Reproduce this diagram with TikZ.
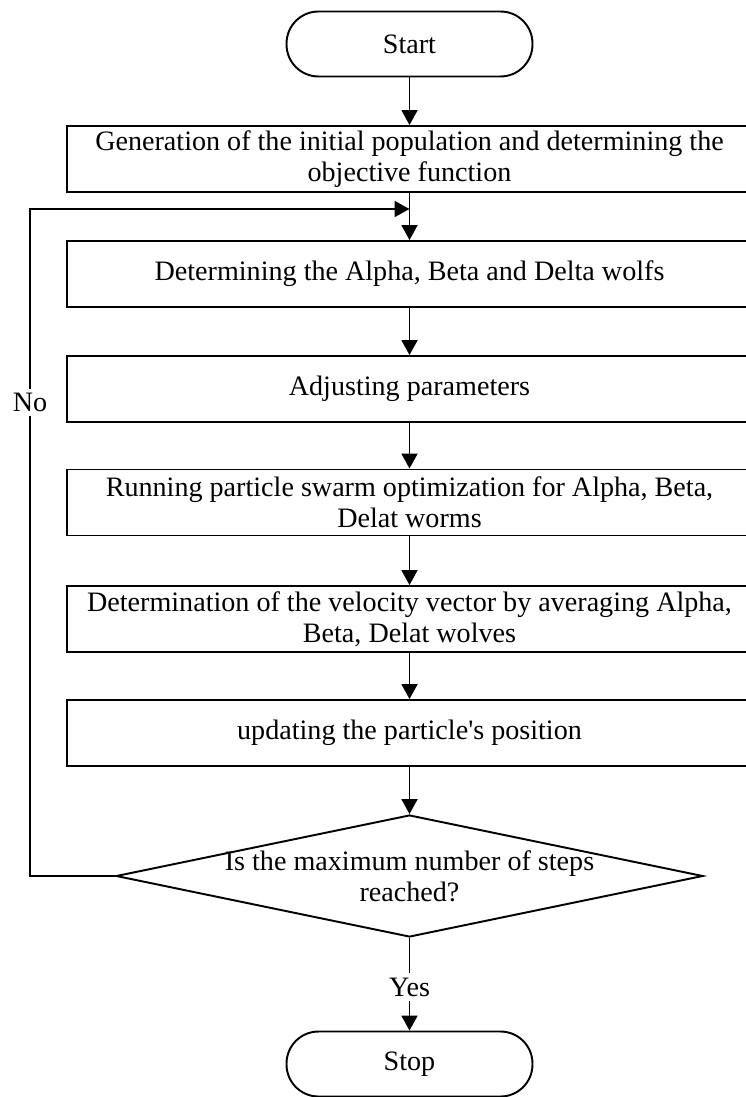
\documentclass[tikz,border=0pt]{standalone}
\usepackage{fontspec}
\setmainfont{Liberation Serif}
\usetikzlibrary{arrows.meta,shapes.geometric}

\begin{document}
\begin{tikzpicture}[x=0.02cm,y=-0.02cm,>={Triangle[length=0.3cm,width=0.32cm]},
    every node/.style={font=\fontsize{16}{17.6}\selectfont},
    process/.style={draw,line width=1.1pt,minimum width=13.7cm,minimum height=1.32cm,align=center,inner sep=0pt},
    terminal/.style={draw,line width=1.1pt,rounded corners=0.64cm,minimum width=4.92cm,minimum height=1.3cm},
    decision/.style={draw,line width=1.1pt,diamond,minimum width=11.74cm,minimum height=2.44cm,inner sep=0pt},
    flow/.style={->,line width=1.1pt},
    answer/.style={fill=white,inner sep=2.5pt}]
    \useasboundingbox (0,0) rectangle (745,1097);
    % boxes
    \node[terminal] (start) at (409.5,44) {Start};
    \node[process] (init) at (409.5,159) {Generation of the initial population and determining the\\objective function};
    \node[process] (leaders) at (409.5,274) {Determining the Alpha, Beta and Delta wolfs};
    \node[process] (adjust) at (409.5,389) {Adjusting parameters};
    \node[process] (pso) at (409.5,502.5) {Running particle swarm optimization for Alpha, Beta,\\Delat worms};
    \node[process] (velocity) at (409.5,619) {Determination of the velocity vector by averaging Alpha,\\Beta, Delat wolves};
    \node[process] (update) at (409.5,733) {updating the particle\textquotesingle s position};
    \node[decision] (check) at (409.5,876) {};
    \node[align=center] (checktext) at (check) {Is the maximum number of steps\\reached?};
    \node[terminal] (stop) at (409.5,1064) {Stop};
    % loop back
    \coordinate (merge) at (409.5,209);
    \coordinate (loopbottom) at (30,876);
    \coordinate (looptop) at (30,209);
    % arrows
    \draw[flow] (start) -- (init);
    \draw[flow] (init) -- (leaders);
    \draw[flow] (leaders) -- (adjust);
    \draw[flow] (adjust) -- (pso);
    \draw[flow] (pso) -- (velocity);
    \draw[flow] (velocity) -- (update);
    \draw[flow] (update) -- (check);
    \draw[flow] (check.south) -- node[answer,pos=0.53] (yes) {Yes} (stop.north);
    \draw[flow] (check.west) -- (loopbottom) -- node[answer,pos=0.71] (no) {No} (looptop) -- (merge);
\end{tikzpicture}
\end{document}
